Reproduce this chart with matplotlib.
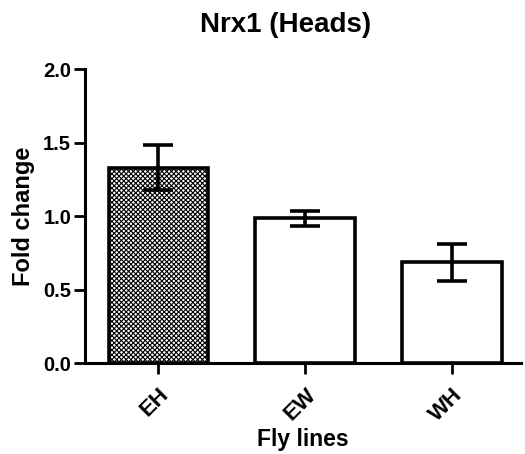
import numpy as np
import matplotlib
matplotlib.use("Agg")
import matplotlib.pyplot as plt

plt.rcParams['font.family'] = ['Liberation Sans', 'DejaVu Sans']
plt.rcParams['font.weight'] = 'bold'
plt.rcParams['hatch.linewidth'] = 0.8

lines = ['EH', 'EW', 'WH']
fold = [1.33, 0.985, 0.685]
sem = [0.15, 0.05, 0.125]

fig = plt.figure(figsize=(5.25, 4.54), dpi=100)
ax = fig.add_axes([0.162, 0.2, 0.83, 0.648])

x = np.arange(len(lines))
bars = ax.bar(x, fold, width=0.68, color='white', edgecolor='black', linewidth=2.6, zorder=2)
bars[0].set_hatch('xxxxxxx')
ax.errorbar(x, fold, yerr=sem, fmt='none', ecolor='black', elinewidth=2.6,
            capsize=11, capthick=2.6, zorder=3)

ax.set_xlim(-0.5, 2.47)
ax.set_ylim(0, 2.0)
ax.set_yticks([0.0, 0.5, 1.0, 1.5, 2.0])
ax.set_yticklabels(['0.0', '0.5', '1.0', '1.5', '2.0'])
ax.set_xticks(x)
ax.set_xticklabels(lines, rotation=45, ha='right', rotation_mode='anchor')

for s in ['top', 'right']:
    ax.spines[s].set_visible(False)
for s in ['left', 'bottom']:
    ax.spines[s].set_linewidth(2.2)
ax.tick_params(axis='both', width=2.0, length=8, labelsize=14.5, pad=2)
ax.tick_params(axis='x', pad=7, labelsize=16)

ax.set_ylabel('Fold change', fontsize=17, fontweight='bold', labelpad=6)
ax.set_xlabel('Fly lines', fontsize=16.5, fontweight='bold', labelpad=2)
ax.set_title('Nrx1 (Heads)', fontsize=20, fontweight='bold', pad=27, x=0.461)

fig.savefig('out.png', dpi=100)
